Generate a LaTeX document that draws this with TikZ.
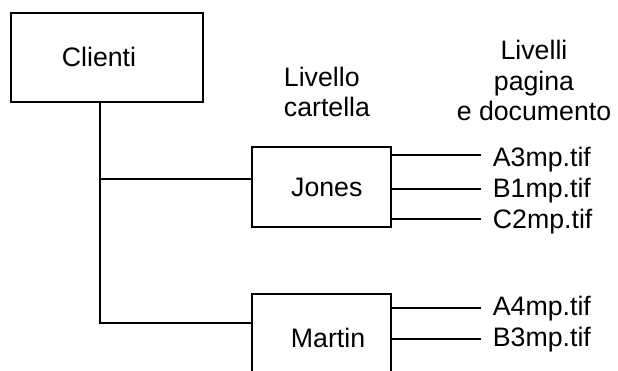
\documentclass[tikz,border=0pt]{standalone}
\usepackage{fontspec}
\setmainfont{Liberation Sans}
\tikzset{box/.style={draw,line width=1.5pt,minimum width=3.475cm,minimum height=2cm},
  file/.style={anchor=base west,inner sep=0pt}}
\begin{document}
\begin{tikzpicture}[line width=1.3pt,font=\fontsize{19}{22}\selectfont]
\path[use as bounding box,clip] (0,0) rectangle (15.45,9.275);
\node[box,minimum width=4.8cm,minimum height=2.225cm,label={[xshift=-0.2cm]center:Clienti}] (clienti) at (2.675,7.84) {};
\node[box,label={[xshift=0.13cm]center:Jones}] (jones) at (8.04,4.6) {};
\node[box,label={[xshift=0.16cm,yshift=-0.1cm]center:Martin}] (martin) at (8.04,0.925) {};
\node[anchor=base west,align=left,inner sep=0pt] (cartella) at (7.075,6.35) {Livello\\cartella};
\node[anchor=base,align=center,inner sep=0pt] (pagine) at (13.35,6.25) {Livelli\\pagina\\e documento};
\node[file] (a3) at (12.3,5.1) {A3mp.tif};
\node[file] (b1) at (12.3,4.325) {B1mp.tif};
\node[file] (c2) at (12.3,3.55) {C2mp.tif};
\node[file] (a4) at (12.3,1.375) {A4mp.tif};
\node[file] (b3) at (12.3,0.6) {B3mp.tif};
\coordinate (fork) at (2.5,4.8);
\coordinate (foot) at (2.5,1.2);
\draw (clienti.south -| fork) -- (foot) -- (foot -| martin.west);
\draw (fork) -- (fork -| jones.west);
\coordinate (ea3) at ([shift={(-0.275,0.3)}]a3.base west);
\coordinate (eb1) at ([shift={(-0.275,0.23)}]b1.base west);
\coordinate (ec2) at ([shift={(-0.275,0.25)}]c2.base west);
\coordinate (ea4) at ([shift={(-0.275,0.2)}]a4.base west);
\coordinate (eb3) at ([shift={(-0.275,0.2)}]b3.base west);
\draw (ea3 -| jones.east) -- (ea3);
\draw (eb1 -| jones.east) -- (eb1);
\draw (ec2 -| jones.east) -- (ec2);
\draw (ea4 -| martin.east) -- (ea4);
\draw (eb3 -| martin.east) -- (eb3);
\end{tikzpicture}
\end{document}
